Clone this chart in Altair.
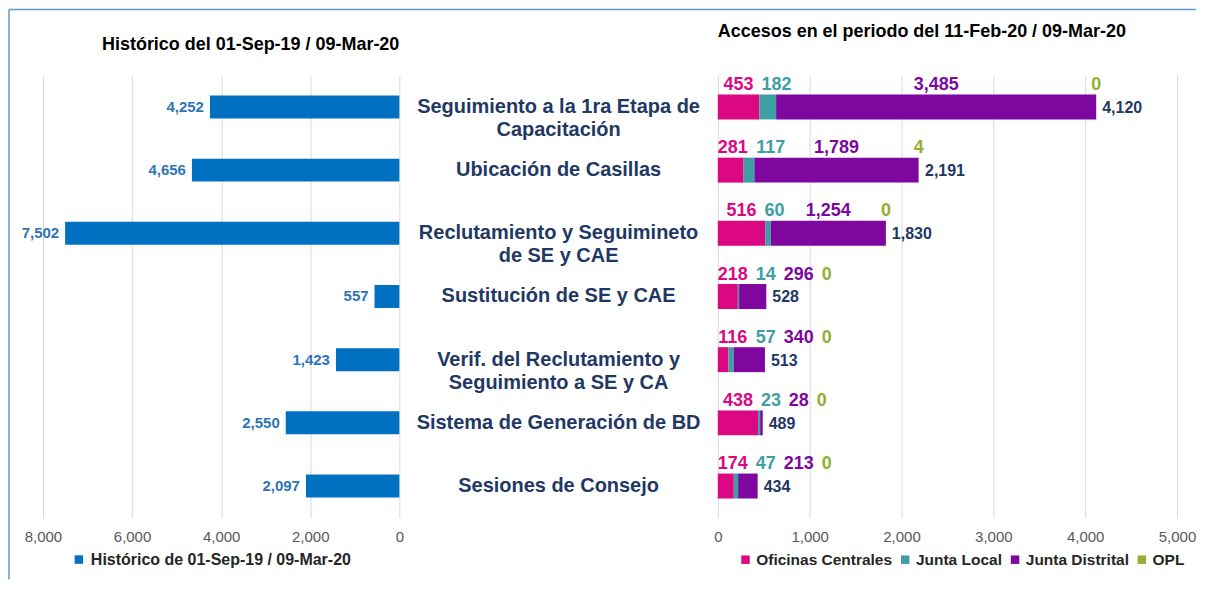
import altair as alt
import pandas as pd

# ---------------- data ----------------
categories = [
    "Seguimiento a la 1ra Etapa de\nCapacitación",
    "Ubicación de Casillas",
    "Reclutamiento y Seguimineto\nde SE y CAE",
    "Sustitución de SE y CAE",
    "Verif. del Reclutamiento y\nSeguimiento a SE y CA",
    "Sistema de Generación de BD",
    "Sesiones de Consejo",
]
historico = [4252, 4656, 7502, 557, 1423, 2550, 2097]
historico_label = "Histórico de 01-Sep-19 / 09-Mar-20"

series = ["Oficinas Centrales", "Junta Local", "Junta Distrital", "OPL"]
oficinas = [453, 281, 516, 218, 116, 438, 174]
junta_local = [182, 117, 60, 14, 57, 23, 47]
junta_distrital = [3485, 1789, 1254, 296, 340, 28, 213]
opl = [0, 4, 0, 0, 0, 0, 0]

left_ticks = [0, 2000, 4000, 6000, 8000]
right_ticks = [0, 1000, 2000, 3000, 4000, 5000]

series_colors = ["#DC0783", "#3E9FA3", "#7D079F", "#8FB030"]

# ---------------- layout constants ----------------
FONT = "Liberation Sans"
H = 443
W_L = 357
W_M = 319
W_R = 460
LBL_FS = 18
GAP = 8
NAVY = "#1F3864"
BORDER = "#5B9BD5"

# ---------------- tables ----------------
left_df = pd.DataFrame({"cat": categories, "val": historico, "hist": historico_label})

k = W_R / 5000.0


def text_w(s, fs=LBL_FS):
    return sum(0.278 if c in ",." else 0.556 for c in s) * fs


rows = []
totals = []
for i, cat in enumerate(categories):
    vals = [oficinas[i], junta_local[i], junta_distrital[i], opl[i]]
    cum = 0
    prev_right = None
    for j, (s, v) in enumerate(zip(series, vals)):
        txt = f"{v:,}"
        w = text_w(txt)
        center = (cum + v / 2.0) * k
        left = center - w / 2.0
        left = max(left, 0.0 if prev_right is None else prev_right + GAP)
        prev_right = left + w
        rows.append({"cat": cat, "serie": s, "val": v, "ord": j,
                     "txt": txt, "lx": (left + w / 2.0) / k})
        cum += v
    totals.append({"cat": cat, "total": cum, "txt": f"{cum:,}"})

right_df = pd.DataFrame(rows)
tot_df = pd.DataFrame(totals)
mid_df = pd.DataFrame({"cat": categories})

yscale = alt.Scale(paddingInner=0, paddingOuter=0)

legend_common = dict(
    orient="none", direction="horizontal", title=None, symbolType="square",
    symbolSize=72, symbolStrokeWidth=0, labelFont=FONT,
    labelFontWeight="bold", labelColor="#262626", labelLimit=0,
)

# ---------------- left panel ----------------
left_y = alt.Y("cat:N", sort=categories, axis=None, scale=yscale)
left_x = alt.X(
    "val:Q",
    scale=alt.Scale(domain=[0, 8000], reverse=True),
    axis=alt.Axis(values=left_ticks, format=",.0f", grid=True, domain=False, ticks=False,
                  labelPadding=12, labelFlush=False, title=None),
)
left_bars = alt.Chart(left_df).mark_bar(size=23).encode(
    y=left_y,
    x=left_x,
    color=alt.Color(
        "hist:N",
        scale=alt.Scale(domain=[historico_label], range=["#0070C0"]),
        legend=alt.Legend(legendX=28, legendY=477, labelOffset=4, labelFontSize=16,
                          **legend_common),
    ),
)
left_text = alt.Chart(left_df).mark_text(
    align="right", baseline="middle", dx=-6, font=FONT, fontSize=15,
    fontWeight="bold", color="#2E75B6",
).encode(y=left_y, x=alt.X("val:Q"), text=alt.Text("val:Q", format=",.0f"))

left = alt.layer(left_bars, left_text).properties(
    width=W_L, height=H,
    title=alt.Title("Histórico del 01-Sep-19 / 09-Mar-20", anchor="end", frame="group",
                    offset=21, font=FONT, fontSize=18, fontWeight="bold", color="#000000"),
)

# ---------------- middle panel (category names + frame lines) ----------------
mid_text = alt.Chart(mid_df).mark_text(
    lineBreak="\n", align="center", baseline="middle", font=FONT, fontSize=20,
    fontWeight="bold", color=NAVY, lineHeight=23,
).encode(
    y=alt.Y("cat:N", sort=categories, axis=None, scale=yscale),
    x=alt.value(W_M / 2),
    text="cat:N",
)
border_df = pd.DataFrame({"b": [0]})
border_left = alt.Chart(border_df).mark_rule(color=BORDER, strokeWidth=1.5).encode(
    x=alt.value(-391), y=alt.value(-66), y2=alt.value(505)
)
border_top = alt.Chart(border_df).mark_rule(color=BORDER, strokeWidth=1.5).encode(
    x=alt.value(-391), x2=alt.value(798), y=alt.value(-66)
)
middle = alt.layer(border_left, border_top, mid_text).properties(width=W_M, height=H)

# ---------------- right panel ----------------
right_y = alt.Y("cat:N", sort=categories, axis=None, scale=yscale)
color_scale = alt.Scale(domain=series, range=series_colors)

right_bars = alt.Chart(right_df).mark_bar(size=25).encode(
    y=right_y,
    x=alt.X("val:Q", stack="zero",
            scale=alt.Scale(domain=[0, 5000]),
            axis=alt.Axis(values=right_ticks, format=",.0f", grid=True, domain=False,
                          ticks=False, labelPadding=12, labelFlush=False, title=None)),
    color=alt.Color(
        "serie:N", scale=color_scale, sort=series,
        legend=alt.Legend(legendX=20, legendY=477, labelOffset=3, columnPadding=5,
                          labelFontSize=15.5, **legend_common),
    ),
    order=alt.Order("ord:Q"),
)
seg_text = alt.Chart(right_df).mark_text(
    align="center", baseline="middle", dy=-22, font=FONT, fontSize=LBL_FS, fontWeight="bold",
).encode(
    y=right_y,
    x=alt.X("lx:Q"),
    text="txt:N",
    color=alt.Color("serie:N", scale=color_scale, legend=None),
)
tot_text = alt.Chart(tot_df).mark_text(
    align="left", baseline="middle", dx=6, dy=1, font=FONT, fontSize=16,
    fontWeight="bold", color=NAVY,
).encode(y=right_y, x=alt.X("total:Q"), text="txt:N")

right = alt.layer(right_bars, seg_text, tot_text).properties(
    width=W_R, height=H,
    title=alt.Title("Accesos en el periodo del 11-Feb-20 / 09-Mar-20", anchor="start",
                    frame="group", offset=34, font=FONT, fontSize=18, fontWeight="bold",
                    color="#000000"),
)

chart = alt.hconcat(left, middle, right, spacing=0, bounds="flush").resolve_scale(
    color="independent"
).properties(padding=0).configure_view(stroke=None).configure_axis(
    gridColor="#D9D9D9", gridWidth=1, labelFont=FONT, labelFontSize=15,
    labelColor="#595959",
)

chart.save("out.html", embed_options={"renderer": "svg", "actions": False})
